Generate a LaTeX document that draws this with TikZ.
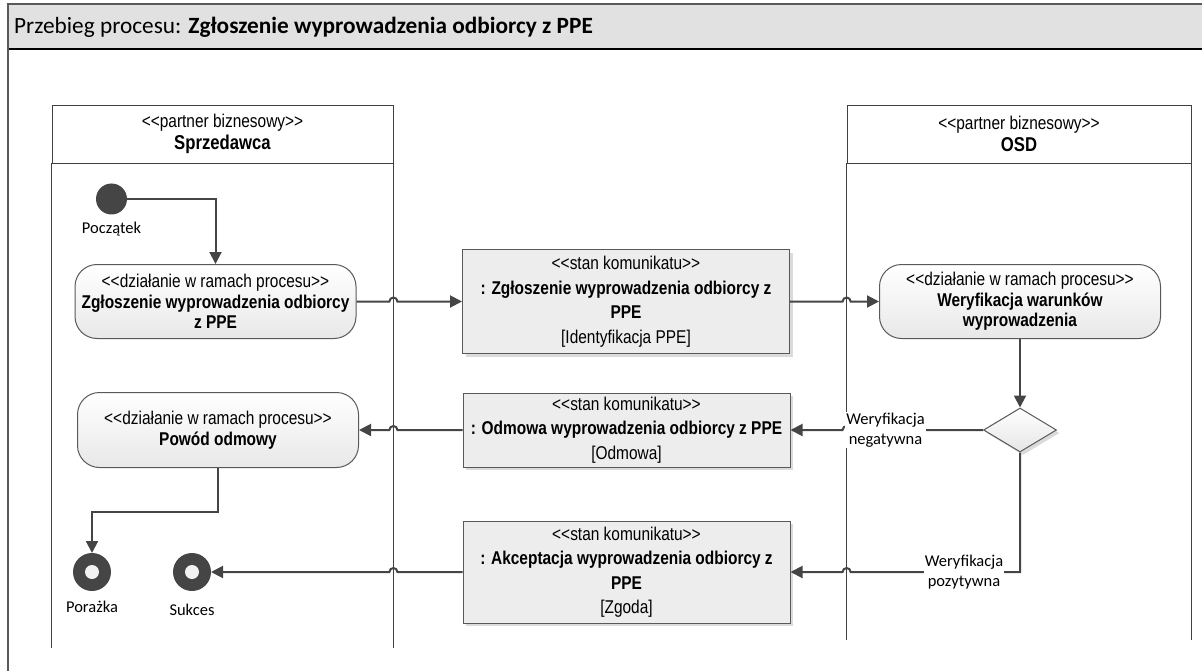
\documentclass[tikz,border=0pt]{standalone}
\usepackage{fontspec}
\usetikzlibrary{arrows.meta,shapes.geometric,shadows,calc}
\newfontfamily\arialf[FakeStretch=0.835]{Liberation Sans}
\newfontfamily\calibf{Carlito}
\definecolor{ln}{HTML}{454545}
\definecolor{hdr}{HTML}{E1E1E1}
\newcommand\stereo[1]{<\kern0pt<#1>\kern0pt>}
\newcommand\actfont{\arialf\fontsize{18.5}{20.5}\selectfont}
\newcommand\msgfont{\arialf\fontsize{18.5}{24.5}\selectfont}
\newcommand\lanefont{\arialf\fontsize{18.5}{21.5}\selectfont}
\newcommand\lblfont{\calibf\fontsize{16.5}{19.5}\selectfont}
\tikzset{
  flow/.style={draw=ln, line width=2pt, -{Triangle[length=12pt,width=12pt]}},
  act/.style={rectangle, rounded corners=22pt, draw=black!65, line width=1pt,
    top color=white, bottom color=black!9, minimum width=281pt, minimum height=74pt,
    align=center, inner sep=0pt, font=\actfont},
  msg/.style={rectangle, draw=black!65, line width=1pt, fill=black!7,
    general shadow={fill=black!14, shadow xshift=3pt, shadow yshift=-3pt},
    minimum width=327pt, align=center, inner sep=0pt, font=\msgfont},
  lanehead/.style={rectangle, draw=black!75, line width=0.8pt, minimum height=58pt,
    align=center, inner sep=0pt, font=\lanefont},
  laneline/.style={draw=black!75, line width=0.8pt},
  lbl/.style={font=\lblfont, align=center, inner sep=1pt},
  decision/.style={diamond, draw=black!65, line width=1pt, top color=white, bottom color=black!10,
    general shadow={fill=black!14, shadow xshift=3pt, shadow yshift=-3pt},
    minimum width=73pt, minimum height=44pt, inner sep=0pt},
  startnode/.style={circle, fill=ln, minimum size=31pt, inner sep=0pt},
  endnode/.style={circle, fill=ln, minimum size=38pt, inner sep=0pt, outer sep=0pt,
    path picture={\fill[black!5] (path picture bounding box.center) circle[radius=7pt];}},
}
\begin{document}
\begin{tikzpicture}[x=1pt,y=1pt]
\useasboundingbox (0,0) rectangle (1202,-671);
% frame
\fill[hdr] (7,-4) rectangle (1202,-49);
\draw[black, line width=1.5pt] (7,-49) -- (1202,-49);
\draw[black!65, line width=2.5pt] (6.5,-4) -- (1202,-4);
\draw[black!65, line width=2pt] (7.5,-3) -- (7.5,-671);
\node[anchor=west, inner sep=0pt, font=\calibf\fontsize{23.3}{25}\selectfont] (title) at (14,-27)
  {Przebieg procesu: \textbf{Zgłoszenie wyprowadzenia odbiorcy z PPE}};

% lanes
\node[lanehead, minimum width=341pt] (laneS) at (222.5,-134)
  {\stereo{partner biznesowy}\\{\fontsize{20}{21.5}\selectfont\textbf{Sprzedawca}}};
\node[lanehead, minimum width=344pt] (laneO) at (1019,-134)
  {\stereo{partner biznesowy}\\{\fontsize{20}{21.5}\selectfont\textbf{OSD}}};
\draw[laneline] (laneS.south west) -- ++(0,-485);
\draw[laneline] (laneS.south east) -- ++(0,-485);
\draw[laneline] (laneO.south west) -- ++(0,-477);
\draw[laneline] (laneO.south east) -- ++(0,-477);
\coordinate (L1) at (laneS.south east);
\coordinate (L2) at (laneO.south west);

% nodes
\node[startnode] (start) at (111.5,-199) {};
\node[lbl] (startlbl) at (111.5,-229) {Początek};
\node[act] (act1) at (215.5,-301.5)
  {\stereo{działanie w ramach procesu}\\\textbf{Zgłoszenie wyprowadzenia odbiorcy}\\\textbf{z PPE}};
\node[msg, minimum height=104pt] (msg1) at (626,-301.5)
  {\stereo{stan komunikatu}\\\textbf{: Zgłoszenie wyprowadzenia odbiorcy z}\\\textbf{PPE}\\{[Identyfikacja PPE]}};
\node[act] (act2) at (1020,-301.5)
  {\stereo{działanie w ramach procesu}\\\textbf{Weryfikacja warunków}\\\textbf{wyprowadzenia}};
\node[decision] (dec) at (1020,-430) {};
\node[msg, minimum height=74pt] (msg2) at (626.5,-430)
  {\stereo{stan komunikatu}\\\textbf{: Odmowa wyprowadzenia odbiorcy z PPE}\\{[Odmowa]}};
\node[act, minimum height=75pt] (act3) at (218,-430)
  {\stereo{działanie w ramach procesu}\\\textbf{Powód odmowy}};
\node[msg, minimum height=102pt] (msg3) at (626.5,-572)
  {\stereo{stan komunikatu}\\\textbf{: Akceptacja wyprowadzenia odbiorcy z}\\\textbf{PPE}\\{[Zgoda]}};
\node[endnode] (porazka) at (92,-572) {};
\node[lbl] (porazkalbl) at (92,-607) {Porażka};
\node[endnode] (sukces) at (192,-572) {};
\node[lbl] (sukceslbl) at (192,-610) {Sukces};

% connectors
\draw[flow] (start.east) -| (act1.north);
\draw[flow] (act1.east) -- ($(L1 |- act1.east)+(-4,0)$) arc[start angle=180,end angle=0,radius=4pt] -- (msg1.west);
\draw[flow] (msg1.east) -- ($(L2 |- msg1.east)+(-4,0)$) arc[start angle=180,end angle=0,radius=4pt] -- (act2.west);
\draw[flow] (act2.south) -- (dec.north);
\draw[flow] (dec.west) -- ($(L2 |- dec.west)+(4,0)$) arc[start angle=0,end angle=180,radius=4pt] -- (msg2.east);
\node[lbl, fill=white] (neg) at (885.5,-430) {Weryfikacja\\negatywna};
\draw[flow] (msg2.west) -- ($(L1 |- msg2.west)+(4,0)$) arc[start angle=0,end angle=180,radius=4pt] -- (act3.east);
\draw[flow] (dec.south) -- (dec.south |- msg3.east) -- ($(L2 |- msg3.east)+(4,0)$) arc[start angle=0,end angle=180,radius=4pt] -- (msg3.east);
\node[lbl, fill=white] (poz) at (964,-572) {Weryfikacja\\pozytywna};
\draw[flow] (msg3.west) -- ($(L1 |- msg3.west)+(4,0)$) arc[start angle=0,end angle=180,radius=4pt] -- (sukces.east);
\draw[flow] (act3.south) -- ++(0,-43.5) -| (porazka.north);
\end{tikzpicture}
\end{document}
